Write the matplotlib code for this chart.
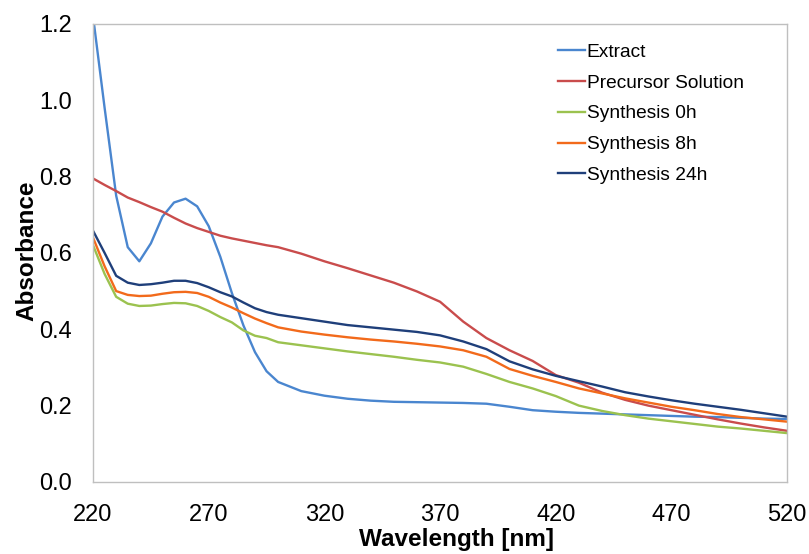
import matplotlib
matplotlib.use("Agg")
import matplotlib.pyplot as plt
from matplotlib.ticker import FormatStrFormatter

plt.rcParams['font.family'] = ['Liberation Sans', 'DejaVu Sans']

# wavelength grid [nm]
wavelength = [220, 225, 230, 235, 240, 245, 250, 255, 260, 265, 270, 275, 280, 285, 290, 295,
              300, 310, 320, 330, 340, 350, 360, 370, 380, 390, 400, 410, 420, 430, 440, 450,
              460, 470, 480, 490, 500, 510, 520]

extract = [1.22, 0.98, 0.75, 0.615, 0.578, 0.625, 0.695, 0.732, 0.742, 0.722, 0.67, 0.59, 0.495, 0.41,
           0.34, 0.29, 0.262, 0.238, 0.226, 0.218, 0.213, 0.210, 0.209, 0.208, 0.207, 0.205, 0.197,
           0.188, 0.184, 0.181, 0.179, 0.177, 0.175, 0.173, 0.171, 0.170, 0.168, 0.166, 0.165]

precursor = [0.795, 0.778, 0.762, 0.745, 0.733, 0.720, 0.708, 0.692, 0.677, 0.665, 0.655, 0.645, 0.638,
             0.632, 0.626, 0.620, 0.615, 0.598, 0.578, 0.560, 0.541, 0.522, 0.499, 0.472, 0.420, 0.377,
             0.345, 0.317, 0.280, 0.260, 0.234, 0.215, 0.200, 0.188, 0.176, 0.164, 0.153, 0.143, 0.134]

synth_0h = [0.62, 0.545, 0.485, 0.467, 0.461, 0.462, 0.466, 0.469, 0.468, 0.461, 0.448, 0.432, 0.418,
            0.397, 0.383, 0.377, 0.366, 0.358, 0.350, 0.342, 0.335, 0.328, 0.320, 0.313, 0.302, 0.283,
            0.262, 0.245, 0.225, 0.200, 0.186, 0.175, 0.166, 0.159, 0.152, 0.145, 0.140, 0.134, 0.128]

synth_8h = [0.64, 0.565, 0.500, 0.490, 0.487, 0.488, 0.493, 0.497, 0.498, 0.495, 0.485, 0.470, 0.457,
            0.442, 0.428, 0.416, 0.405, 0.394, 0.386, 0.379, 0.373, 0.368, 0.362, 0.355, 0.345, 0.328,
            0.296, 0.278, 0.262, 0.245, 0.232, 0.219, 0.208, 0.197, 0.188, 0.178, 0.170, 0.164, 0.158]

synth_24h = [0.658, 0.600, 0.540, 0.522, 0.516, 0.518, 0.522, 0.527, 0.527, 0.521, 0.510, 0.497, 0.486,
             0.470, 0.455, 0.445, 0.438, 0.429, 0.420, 0.411, 0.405, 0.399, 0.393, 0.384, 0.368, 0.348,
             0.316, 0.295, 0.278, 0.264, 0.250, 0.235, 0.224, 0.214, 0.205, 0.197, 0.189, 0.180, 0.171]

series = [
    ("Extract", extract, "#4A86CF"),
    ("Precursor Solution", precursor, "#C94C4C"),
    ("Synthesis 0h", synth_0h, "#9BC24F"),
    ("Synthesis 8h", synth_8h, "#F26A1B"),
    ("Synthesis 24h", synth_24h, "#1F3F7A"),
]

fig = plt.figure(figsize=(8.09, 5.54), dpi=100)
ax = fig.add_axes([0.115, 0.130, 0.858, 0.827])

for name, vals, col in series:
    ax.plot(wavelength, vals, color=col, lw=1.7, label=name)

ax.set_xlim(220, 520)
ax.set_ylim(0, 1.2)
ax.set_xticks([220, 270, 320, 370, 420, 470, 520])
ax.set_yticks([0, 0.2, 0.4, 0.6, 0.8, 1.0, 1.2])
ax.yaxis.set_major_formatter(FormatStrFormatter('%.1f'))
ax.tick_params(length=0, labelsize=17)
ax.tick_params(axis='x', pad=16)
ax.tick_params(axis='y', pad=15)
for sp in ax.spines.values():
    sp.set_color('#BFBFBF')
    sp.set_linewidth(1.0)

ax.set_xlabel('Wavelength [nm]', fontsize=17.5, fontweight='bold')
ax.set_ylabel('Absorbance', fontsize=17.5, fontweight='bold')
ax.xaxis.set_label_coords(0.523, -0.101)
ax.yaxis.set_label_coords(-0.079, 0.505)

ax.legend(loc='upper left', bbox_to_anchor=(0.645, 0.995), frameon=False, fontsize=13.8,
          handlelength=1.4, handletextpad=0.1, labelspacing=0.7)

fig.savefig('out.png', dpi=100)
